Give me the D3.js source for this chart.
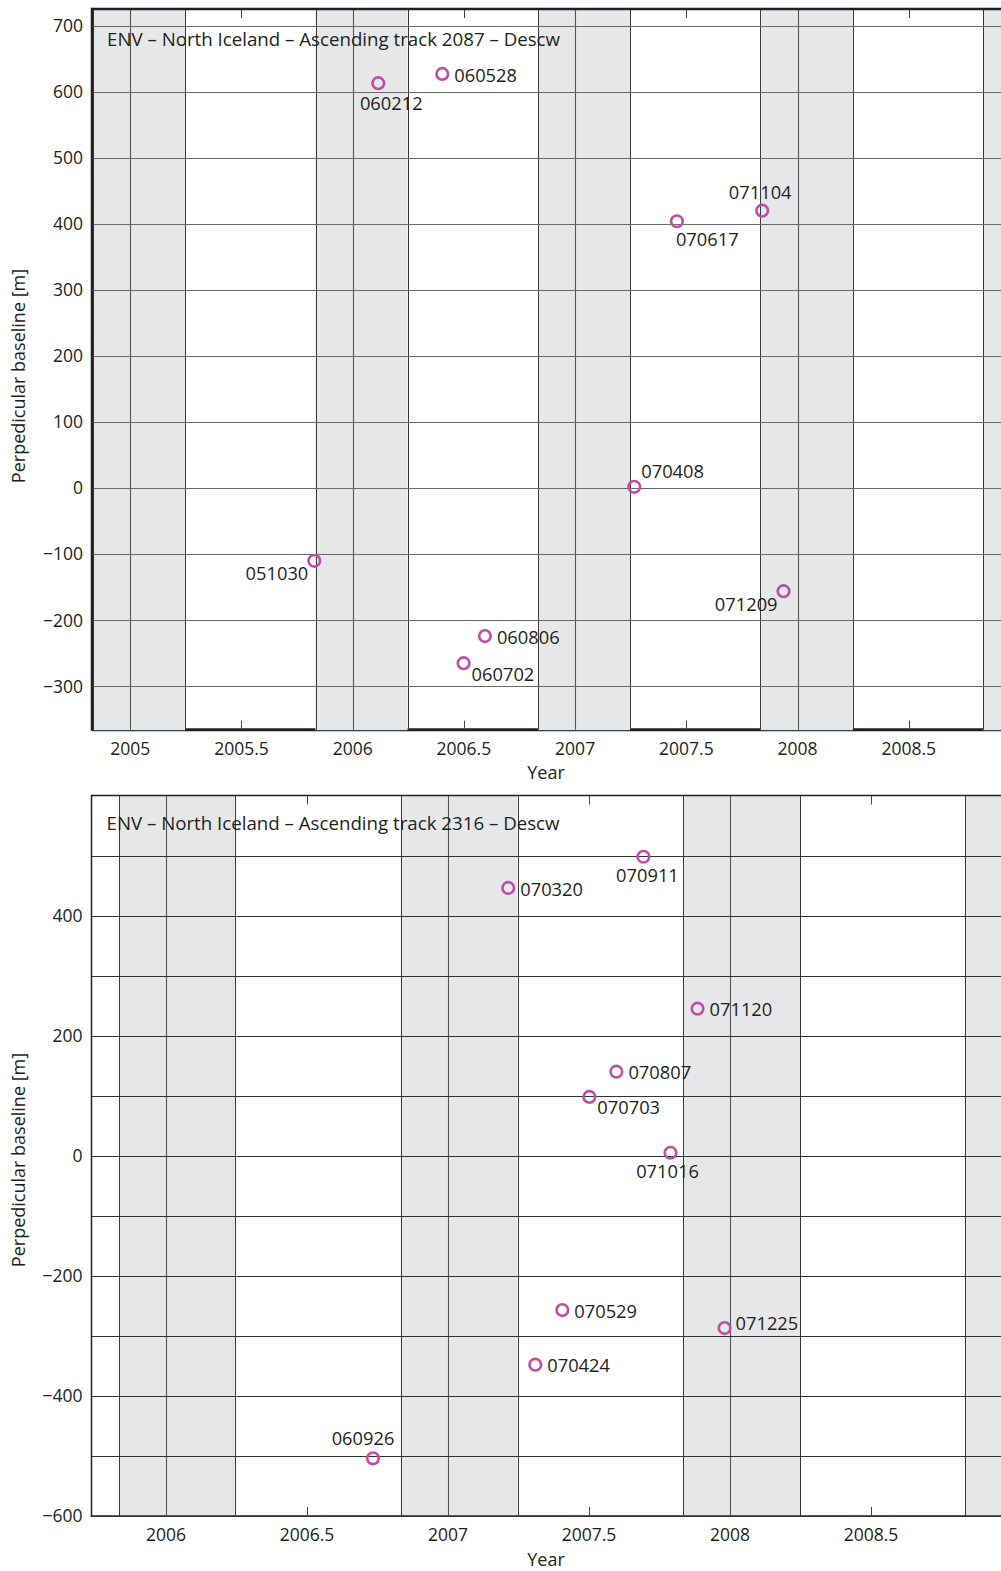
<!DOCTYPE html>
<html>
<head>
<meta charset="utf-8">
<script src="https://d3js.org/d3.v7.min.js"></script>
<style>
  body { margin: 0; background: #fff; }
  text { font-family: "Open Sans", sans-serif; fill: #231f20; }
</style>
</head>
<body>
<div id="chart"></div>
<script>

// --- data: track 2087 ---
const dates2087 = ["051030", "060212", "060528", "060702", "060806", "070408", "070617", "071104", "071209"];
const baselines2087 = [-110, 613, 627, -265, -224, 2, 404, 420, -156];
const labelPos2087 = ["sw", "sr", "e", "se", "e", "ne", "sse", "n", "sw"];
const yTicks2087 = [-300, -200, -100, 0, 100, 200, 300, 400, 500, 600, 700];
const xTicks2087 = [2005, 2005.5, 2006, 2006.5, 2007, 2007.5, 2008, 2008.5];

// --- data: track 2316 ---
const dates2316 = ["060926", "070320", "070424", "070529", "070703", "070807", "070911", "071016", "071120", "071225"];
const baselines2316 = [-504, 446, -348, -257, 98, 140, 498, 5, 245, -287];
const labelPos2316 = ["nl", "e", "e", "e", "se", "e", "s", "sl", "e", "ne2"];
const yGrid2316 = [-600, -500, -400, -300, -200, -100, 0, 100, 200, 300, 400, 500];
const yTicks2316 = [-600, -400, -200, 0, 200, 400];
const xTicks2316 = [2006, 2006.5, 2007, 2007.5, 2008, 2008.5];

// winter (snow) periods shaded in grey
const winterStart = ["2004-11-01", "2005-11-01", "2006-11-01", "2007-11-01", "2008-11-01"];
const winterEnd   = ["2005-04-01", "2006-04-01", "2007-04-01", "2008-04-01", "2009-04-01"];

const width = 1001, height = 1571;

const svg = d3.select("#chart").append("svg")
  .attr("width", width)
  .attr("height", height);

function decYear(date) {
  const y = date.getFullYear();
  const a = new Date(y, 0, 1), b = new Date(y + 1, 0, 1);
  return y + (date - a) / (b - a);
}
const parseShort = d3.timeParse("%y%m%d");
const parseIso = d3.timeParse("%Y-%m-%d");

// label offsets relative to the marker
const offsets = {
  e:   { dx: 12, dy: 1, anchor: "start" },
  se:  { dx: 8, dy: 11, anchor: "start" },
  ne:  { dx: 7, dy: -15, anchor: "start" },
  ne2: { dx: 11, dy: -5, anchor: "start" },
  s:   { dx: 4, dy: 19, anchor: "middle" },
  sr:  { dx: 13, dy: 20, anchor: "middle" },
  sl:  { dx: -3, dy: 19, anchor: "middle" },
  sse: { dx: -1, dy: 18, anchor: "start" },
  n:   { dx: -2, dy: -18, anchor: "middle" },
  nl:  { dx: -10, dy: -20, anchor: "middle" },
  sw:  { dx: -6, dy: 13, anchor: "end" }
};

function drawPanel(cfg) {
  const x = d3.scaleLinear().domain(cfg.xDomain).range([cfg.left, cfg.right]);
  const y = d3.scaleLinear().domain(cfg.yDomain).range([cfg.bottom, cfg.top]);
  const g = svg.append("g");

  const clipId = "clip" + cfg.name;
  svg.append("clipPath").attr("id", clipId)
    .append("rect")
    .attr("x", cfg.left).attr("y", cfg.top)
    .attr("width", cfg.right - cfg.left).attr("height", cfg.bottom - cfg.top + 1);

  // bottom axis line (grey bands sit over it)
  g.append("line")
    .attr("x1", cfg.left).attr("x2", cfg.right)
    .attr("y1", cfg.bottom).attr("y2", cfg.bottom)
    .attr("stroke", "#231f20").attr("stroke-width", cfg.bottomWidth);

  const plot = g.append("g").attr("clip-path", `url(#${clipId})`);

  const bands = winterStart.map((s, i) => [decYear(parseIso(s)), decYear(parseIso(winterEnd[i]))]);

  plot.selectAll(".band")
    .data(bands)
    .enter().append("rect")
    .attr("class", "band")
    .attr("x", d => x(d[0]))
    .attr("width", d => x(d[1]) - x(d[0]))
    .attr("y", cfg.top)
    .attr("height", cfg.bottom - cfg.top + cfg.bandOver)
    .attr("fill", "#e6e7e8");

  // band edges
  const edges = bands.flat();
  plot.selectAll(".edge")
    .data(edges)
    .enter().append("line")
    .attr("x1", d => Math.round(x(d)) + 0.5).attr("x2", d => Math.round(x(d)) + 0.5)
    .attr("y1", cfg.top).attr("y2", cfg.bottom)
    .attr("stroke", "#3a3a3a").attr("stroke-width", 1);

  // vertical grid at whole years
  plot.selectAll(".vgrid")
    .data(cfg.xTicks.filter(d => d % 1 === 0))
    .enter().append("line")
    .attr("x1", d => Math.round(x(d)) + 0.5).attr("x2", d => Math.round(x(d)) + 0.5)
    .attr("y1", cfg.top).attr("y2", cfg.bottom)
    .attr("stroke", "#555").attr("stroke-width", 1.1);

  // horizontal grid
  plot.selectAll(".hgrid")
    .data(cfg.yGrid)
    .enter().append("line")
    .attr("x1", cfg.left).attr("x2", cfg.right)
    .attr("y1", d => Math.round(y(d)) + 0.5).attr("y2", d => Math.round(y(d)) + 0.5)
    .attr("stroke", cfg.hgridColor).attr("stroke-width", 1.1);

  // half-year inward ticks
  const halfTicks = cfg.xTicks.filter(d => d % 1 !== 0);
  [[cfg.top, 9], [cfg.bottom, -9]].forEach(([y0, len]) => {
    plot.selectAll(null)
      .data(halfTicks)
      .enter().append("line")
      .attr("x1", d => Math.round(x(d)) + 0.5).attr("x2", d => Math.round(x(d)) + 0.5)
      .attr("y1", y0).attr("y2", y0 + len)
      .attr("stroke", "#444").attr("stroke-width", 1);
  });

  // title inside the plot
  g.append("text")
    .attr("x", cfg.left + 15)
    .attr("y", cfg.titleY)
    .attr("font-size", 18.7)
    .text(cfg.title);

  // top and left frame
  g.append("line")
    .attr("x1", cfg.left).attr("x2", cfg.right)
    .attr("y1", cfg.top).attr("y2", cfg.top)
    .attr("stroke", "#231f20").attr("stroke-width", cfg.frameWidth);
  g.append("line")
    .attr("x1", cfg.left).attr("x2", cfg.left)
    .attr("y1", cfg.top - cfg.frameWidth / 2).attr("y2", cfg.bottom + 1)
    .attr("stroke", "#231f20").attr("stroke-width", cfg.frameWidth);

  // points
  const pts = cfg.dates.map((d, i) => ({
    label: d,
    t: decYear(parseShort(d)),
    v: cfg.values[i],
    pos: offsets[cfg.labelPos[i]]
  }));

  g.selectAll(".pt")
    .data(pts)
    .enter().append("circle")
    .attr("cx", d => x(d.t))
    .attr("cy", d => y(d.v))
    .attr("r", 5.8)
    .attr("fill", "none")
    .attr("stroke", "#c04ca6")
    .attr("stroke-width", 2.6);

  g.selectAll(".lbl")
    .data(pts)
    .enter().append("text")
    .attr("x", d => x(d.t) + d.pos.dx)
    .attr("y", d => y(d.v) + d.pos.dy)
    .attr("dy", "0.36em")
    .attr("text-anchor", d => d.pos.anchor)
    .attr("font-size", 18.3)
    .text(d => d.label);

  // y tick labels
  g.selectAll(".ytick")
    .data(cfg.yTicks)
    .enter().append("text")
    .attr("x", cfg.left - 9)
    .attr("y", d => y(d))
    .attr("dy", "0.36em")
    .attr("text-anchor", "end")
    .attr("font-size", 17.5)
    .text(d => d < 0 ? "\u2212" + Math.abs(d) : d);

  // x tick labels
  g.selectAll(".xtick")
    .data(cfg.xTicks)
    .enter().append("text")
    .attr("x", d => x(d))
    .attr("y", cfg.bottom + 25)
    .attr("text-anchor", "middle")
    .attr("font-size", 17.5)
    .text(d => d);

  g.append("text")
    .attr("x", 546)
    .attr("y", cfg.bottom + 49.5)
    .attr("text-anchor", "middle")
    .attr("font-size", 18)
    .text("Year");

  g.append("text")
    .attr("transform", `translate(25,${cfg.yTitleCenter}) rotate(-90)`)
    .attr("text-anchor", "middle")
    .attr("font-size", 18)
    .text("Perpedicular baseline [m]");
}

drawPanel({
  name: "a",
  title: "ENV \u2013 North Iceland \u2013 Ascending track 2087 \u2013 Descw",
  dates: dates2087, values: baselines2087, labelPos: labelPos2087,
  xTicks: xTicks2087, yTicks: yTicks2087, yGrid: yTicks2087,
  xDomain: [2004.828, 2009], left: 92, right: 1020,
  yDomain: [-365.7, 725.3], bottom: 729.7, top: 9,
  titleY: 46, yTitleCenter: 376,
  frameWidth: 2.5, bottomWidth: 3, bandOver: 0.5, hgridColor: "#6a6a6a"
});

drawPanel({
  name: "b",
  title: "ENV \u2013 North Iceland \u2013 Ascending track 2316 \u2013 Descw",
  dates: dates2316, values: baselines2316, labelPos: labelPos2316,
  xTicks: xTicks2316, yTicks: yTicks2316, yGrid: yGrid2316,
  xDomain: [2005.736, 2009], left: 91.5, right: 1012,
  yDomain: [-600, 600], bottom: 1516, top: 795.5,
  titleY: 830, yTitleCenter: 1160,
  frameWidth: 1.5, bottomWidth: 1.5, bandOver: -1, hgridColor: "#333"
});

</script>
</body>
</html>
